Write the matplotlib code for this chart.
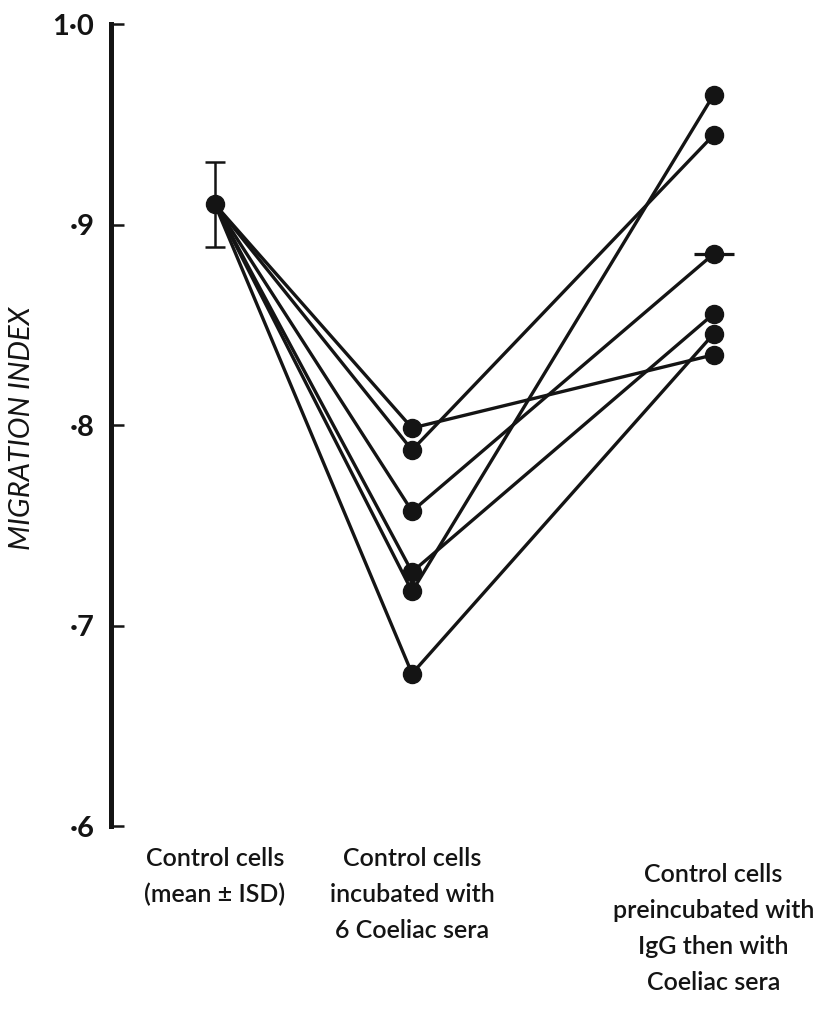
import numpy as np
import matplotlib.pyplot as plt

# Migration index of control cells, per condition
control_mean = 0.91
control_sd = 0.021
coeliac_sera = [0.7985, 0.7875, 0.757, 0.7267, 0.717, 0.676]
igg_then_coeliac = [0.835, 0.9446, 0.8853, 0.8554, 0.9646, 0.8454]
dashed_serum = 2  # serum whose IgG value carries a horizontal dash

group_labels = [
    "Control cells\n(mean \u00b1 ISD)",
    "Control cells\nincubated with\n6 Coeliac sera",
    "Control cells\npreincubated with\nIgG then with\nCoeliac sera",
]
ytick_values = [0.6, 0.7, 0.8, 0.9, 1.0]
ytick_labels = ["\u00b76", "\u00b77", "\u00b78", "\u00b79", "1\u00b70"]

# layout
group_x = [0, 1, 2.53]
label_top = [-0.026, -0.026, -0.046]
ink = "#141414"
font = "Lato"

plt.rcParams["font.family"] = [font, "DejaVu Sans"]

fig = plt.figure(figsize=(8.16, 10.14), dpi=100)
ax = fig.add_axes([0.136, 0.1854, 0.864, 0.7909])

for a, b in zip(coeliac_sera, igg_then_coeliac):
    ax.plot(group_x, [control_mean, a, b], color=ink, lw=2.4, zorder=2,
            solid_capstyle="round")

ax.errorbar(group_x[0], control_mean, yerr=control_sd, fmt="o", ms=13,
            color=ink, ecolor=ink, elinewidth=1.8, capsize=7, capthick=1.8,
            zorder=3)
ax.plot([group_x[1]] * len(coeliac_sera), coeliac_sera, "o", ms=13,
        color=ink, zorder=3)
ax.plot([group_x[2]] * len(igg_then_coeliac), igg_then_coeliac, "o", ms=13,
        color=ink, zorder=3, clip_on=False)
ax.plot(group_x[2], igg_then_coeliac[dashed_serum], marker="_", ms=29,
        mew=2.3, color=ink, zorder=3)

ax.set_xlim(-0.528, 3.05)
ax.set_ylim(0.6, 1.0)
for side in ["top", "right", "bottom"]:
    ax.spines[side].set_visible(False)
ax.spines["left"].set_linewidth(3.6)
ax.spines["left"].set_color(ink)
ax.set_xticks([])
ax.set_yticks(ytick_values)
ax.set_yticklabels(ytick_labels, fontsize=21, fontweight="bold", color=ink)
ax.tick_params(axis="y", direction="in", length=9, width=1.8, color=ink, pad=12)

for x, top, text in zip(group_x, label_top, group_labels):
    ax.text(x, top, text, transform=ax.get_xaxis_transform(), ha="center",
            va="top", ma="center", fontsize=18, fontweight="semibold",
            color=ink, linespacing=1.68)

fig.text(22 / 816, 1 - 428 / 1014, "MIGRATION INDEX", rotation=90,
         ha="center", va="center", fontsize=21, fontstyle="italic", color=ink)

fig.savefig("out.png", dpi=100)
